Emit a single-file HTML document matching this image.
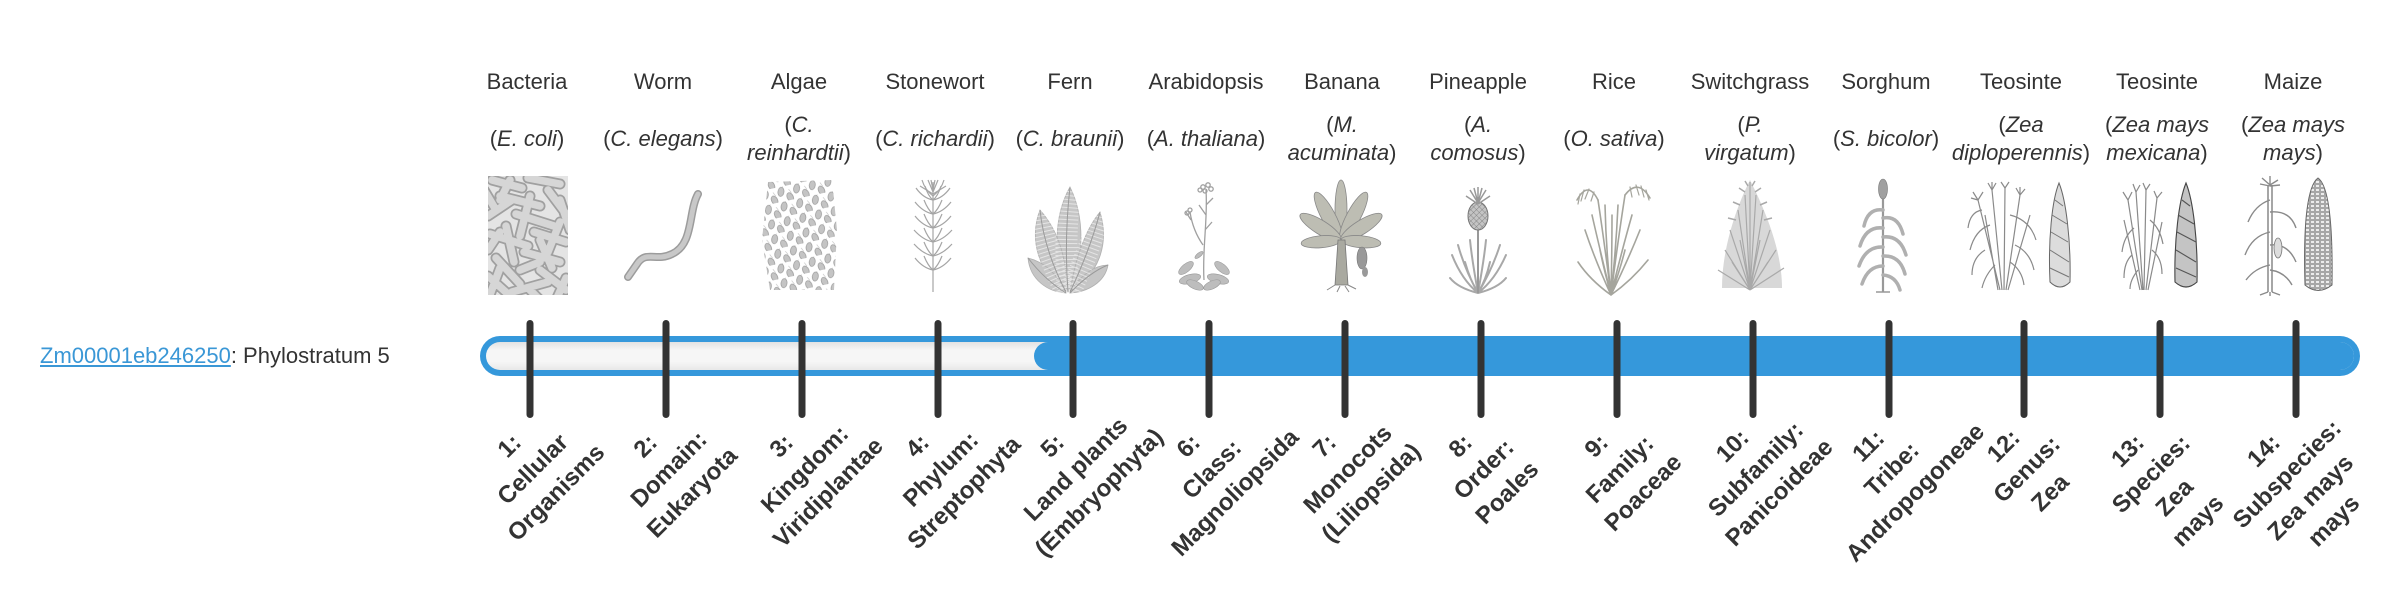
<!DOCTYPE html>
<html><head><meta charset="utf-8"><style>
html,body{margin:0;padding:0;background:#fff;}
body{width:2400px;height:580px;overflow:hidden;position:relative;font-family:"Liberation Sans",Arial,sans-serif;color:#333;}
.t{position:absolute;top:67px;width:160px;text-align:center;font-size:22px;line-height:30px;white-space:nowrap;color:#333;}
.s{position:absolute;top:104px;height:70px;width:160px;display:flex;align-items:center;justify-content:center;text-align:center;font-size:22px;line-height:28px;white-space:nowrap;color:#333;}
.l{position:absolute;top:420px;width:200px;text-align:center;font-size:24px;font-weight:bold;line-height:33px;white-space:nowrap;color:#333;transform:rotate(-45deg);transform-origin:50% 50%;}
.g{position:absolute;left:40px;top:341px;font-size:22px;line-height:30px;white-space:nowrap;color:#333;}
.g a{color:#3a97d6;text-decoration:underline;}
svg{position:absolute;left:0;top:0;}
</style></head><body>
<svg width="2400" height="580" viewBox="0 0 2400 580">
<defs>
<linearGradient id="gr" x1="0" y1="0" x2="0" y2="1">
<stop offset="0" stop-color="#e2e2e2"/><stop offset=".3" stop-color="#f6f6f6"/><stop offset=".7" stop-color="#f6f6f6"/><stop offset="1" stop-color="#e8e8e8"/>
</linearGradient>
<clipPath id="bc"><rect x="488" y="176" width="80" height="119"/></clipPath>
<pattern id="alg" width="16" height="15" patternUnits="userSpaceOnUse" patternTransform="rotate(-12)">
<ellipse cx="4" cy="5" rx="3" ry="4.6" fill="#c4c4c4" stroke="#999" stroke-width=".7" transform="rotate(20 4 5)"/>
<ellipse cx="12" cy="12" rx="3" ry="4.6" fill="#c4c4c4" stroke="#999" stroke-width=".7" transform="rotate(-15 12 12)"/>
<path d="M6 1 l3 -3 M14 8 l-2 -4" stroke="#aaa" stroke-width=".5" fill="none"/>
</pattern>
<pattern id="ph" width="4" height="4" patternUnits="userSpaceOnUse" patternTransform="rotate(45)">
<rect width="4" height="4" fill="#c4c4c4"/><path d="M0 0 H4 M0 0 V4" stroke="#777" stroke-width=".8"/>
</pattern>
<pattern id="kern" width="5" height="4" patternUnits="userSpaceOnUse">
<rect width="5" height="4" fill="#ececec"/><rect x=".5" y=".5" width="4" height="3" fill="none" stroke="#8a8a8a" stroke-width=".7"/>
</pattern>
</defs>

<!-- Bacteria -->
<rect x="488" y="176" width="80" height="119" fill="#e4e4e4"/>
<g clip-path="url(#bc)" stroke-linecap="round">
<g stroke="#a0a0a0" stroke-width="11">
<path d="M492 180L522 188M528 178L560 184M500 196L540 206M548 190L566 214M488 216L512 200M516 214L554 226M490 234L528 246M534 232L566 242M496 258L520 284M524 252L560 262M540 270L566 290M488 276L508 294M512 292L548 282M506 226L514 262M560 222L548 252M484 190L496 210M530 196L520 236M488 300L500 268M556 300L566 278M540 240L552 268M488 250L500 232M520 270L540 262M510 180L500 200M560 200L570 230M530 290L540 300"/>
</g>
<g stroke="#d6d6d6" stroke-width="7.5">
<path d="M492 180L522 188M528 178L560 184M500 196L540 206M548 190L566 214M488 216L512 200M516 214L554 226M490 234L528 246M534 232L566 242M496 258L520 284M524 252L560 262M540 270L566 290M488 276L508 294M512 292L548 282M506 226L514 262M560 222L548 252M484 190L496 210M530 196L520 236M488 300L500 268M556 300L566 278M540 240L552 268M488 250L500 232M520 270L540 262M510 180L500 200M560 200L570 230M530 290L540 300"/>
</g>
</g>

<!-- Worm -->
<path d="M698 194 C688 212 694 244 672 254 C656 262 646 250 637 264 L628 277" stroke="#9c9c9c" stroke-width="8" fill="none" stroke-linecap="round"/>
<path d="M698 194 C688 212 694 244 672 254 C656 262 646 250 637 264 L628 277" stroke="#c8c8c8" stroke-width="5" fill="none" stroke-linecap="round"/>

<!-- Algae -->
<path d="M768 182 L832 180 L837 230 L834 290 L770 290 L762 240 Z" fill="url(#alg)"/>

<!-- Stonewort -->
<g stroke="#a5a5a5" stroke-width="1.2" fill="none">
<path d="M933 292 L933 182"/>
<path d="M933 200q-10 -2 -17 -12M933 200q10 -2 17 -12M933 200q-5 -4 -8 -14M933 200q5 -4 8 -14"/>
<path d="M933 214q-10 -2 -18 -12M933 214q10 -2 18 -12M933 214q-5 -4 -9 -14M933 214q5 -4 9 -14"/>
<path d="M933 228q-10 -2 -18 -12M933 228q10 -2 18 -12M933 228q-5 -4 -9 -14M933 228q5 -4 9 -14"/>
<path d="M933 242q-10 -2 -19 -12M933 242q10 -2 19 -12M933 242q-5 -4 -9 -14M933 242q5 -4 9 -14"/>
<path d="M933 256q-10 -2 -19 -12M933 256q10 -2 19 -12M933 256q-5 -4 -9 -14M933 256q5 -4 9 -14"/>
<path d="M933 270q-10 -2 -18 -12M933 270q10 -2 18 -12M933 270q-5 -4 -9 -14M933 270q5 -4 9 -14"/>
<path d="M933 196q-8 -6 -11 -16M933 196q8 -6 11 -16M933 192l-5 -12M933 192l5 -12M933 190l-2 -10M933 190l2 -10M933 194l-13 -8M933 194l13 -8"/>
</g>

<!-- Fern -->
<g fill="#c6c6c6" stroke="#b0b0b0" stroke-width=".8">
<path d="M1068 292 C1052 260 1054 215 1070 187 C1084 215 1086 260 1068 292Z"/>
<path d="M1066 292 C1040 275 1028 240 1040 210 C1058 230 1068 260 1066 292Z"/>
<path d="M1070 292 C1075 260 1085 230 1100 212 C1110 245 1098 275 1070 292Z"/>
<path d="M1066 293 C1048 292 1030 280 1028 258 C1045 262 1058 275 1066 293Z"/>
<path d="M1070 293 C1080 275 1095 265 1108 265 C1105 282 1088 292 1070 293Z"/>
</g>
<g stroke="#fff" stroke-width="22" stroke-dasharray="1 3" opacity=".55" fill="none">
<path d="M1068 292 Q1064 240 1070 187"/>
<path d="M1066 292 Q1044 250 1040 210"/>
<path d="M1070 292 Q1090 250 1100 212"/>
</g>
<g stroke="#9a9a9a" stroke-width="1" fill="none">
<path d="M1068 292 Q1064 240 1070 187M1066 292 Q1044 250 1040 210M1070 292 Q1090 250 1100 212M1066 293 Q1045 280 1028 258M1070 293 Q1090 272 1108 265"/>
</g>

<!-- Arabidopsis -->
<g fill="#bdbdbd" stroke="#999" stroke-width=".6">
<ellipse cx="1190" cy="279" rx="11" ry="4.5" transform="rotate(-15 1190 279)"/>
<ellipse cx="1218" cy="279" rx="11" ry="4.5" transform="rotate(15 1218 279)"/>
<ellipse cx="1195" cy="285" rx="9" ry="4" transform="rotate(25 1195 285)"/>
<ellipse cx="1212" cy="285" rx="9" ry="4" transform="rotate(-25 1212 285)"/>
<ellipse cx="1186" cy="268" rx="9" ry="4" transform="rotate(-40 1186 268)"/>
<ellipse cx="1222" cy="268" rx="9" ry="4" transform="rotate(40 1222 268)"/>
<ellipse cx="1199" cy="255" rx="5" ry="2" transform="rotate(-40 1199 255)"/>
</g>
<g stroke="#a0a0a0" stroke-width="1.3" fill="none">
<path d="M1204 280 C1202 250 1208 220 1206 190M1203 245 C1196 235 1192 225 1190 212M1205 230l7 -8M1206 215l-7 -10M1206 205l7 -7M1191 220l-5 -8"/>
<circle cx="1203" cy="187" r="2.2"/><circle cx="1208" cy="185" r="2.2"/><circle cx="1211" cy="189" r="2.2"/><circle cx="1205" cy="191" r="2"/><circle cx="1200" cy="190" r="2"/><circle cx="1190" cy="210" r="2"/><circle cx="1187" cy="213" r="2"/>
</g>

<!-- Banana -->
<g fill="#bdbdb3" stroke="#888" stroke-width=".8">
<ellipse cx="1341" cy="210" rx="6" ry="30"/>
<ellipse cx="1328.3" cy="216.2" rx="7" ry="27" transform="rotate(-28 1328.3 216.2)"/>
<ellipse cx="1353.7" cy="216.2" rx="7" ry="27" transform="rotate(28 1353.7 216.2)"/>
<ellipse cx="1320.6" cy="227.3" rx="7" ry="24" transform="rotate(-58 1320.6 227.3)"/>
<ellipse cx="1361.4" cy="227.3" rx="7" ry="24" transform="rotate(58 1361.4 227.3)"/>
<ellipse cx="1321.1" cy="241.7" rx="6" ry="20" transform="rotate(-95 1321.1 241.7)"/>
<ellipse cx="1360.9" cy="241.7" rx="6" ry="20" transform="rotate(95 1360.9 241.7)"/>
</g>
<path d="M1335 285 L1338 240 L1345 240 L1348 285 Z" fill="#a9a9a0" stroke="#777" stroke-width=".8"/>
<path d="M1335 285l-8 5M1340 286l-3 6M1345 286l4 6M1348 285l8 4" stroke="#888" fill="none"/>
<ellipse cx="1362" cy="258" rx="5" ry="11" fill="#999" stroke="#777" stroke-width=".6"/>
<ellipse cx="1365" cy="272" rx="3" ry="5" fill="#999"/>

<!-- Pineapple -->
<g stroke="#a8a8a8" stroke-width="2" fill="none" stroke-linecap="round">
<path d="M1478 293 Q1462 280 1452 255M1478 293 Q1465 270 1458 245M1478 293 Q1470 280 1465 262M1478 293 Q1486 280 1490 262M1478 293 Q1492 270 1500 245M1478 293 Q1495 280 1506 255M1478 293 Q1472 260 1470 240M1478 293 Q1484 260 1486 240M1478 293 Q1458 288 1450 278M1478 293 Q1498 288 1506 278"/>
</g>
<path d="M1478 293 L1478 228" stroke="#999" stroke-width="2"/>
<ellipse cx="1478" cy="216" rx="10" ry="14" fill="url(#ph)" stroke="#777" stroke-width="1"/>
<path d="M1478 203l-8 -13M1478 203l-4 -15M1478 203l0 -16M1478 203l4 -15M1478 203l8 -13M1478 204l-12 -8M1478 204l12 -8" stroke="#999" stroke-width="1.5" fill="none"/>

<!-- Rice -->
<g stroke="#a5a59d" stroke-width="1.6" fill="none" stroke-linecap="round">
<path d="M1611 295Q1595 260 1585 230M1611 295Q1600 250 1592 215M1611 295Q1604 240 1598 200M1611 295Q1606 250 1605 205M1611 295Q1612 250 1612 215M1611 295Q1616 250 1618 205M1611 295Q1618 240 1625 195M1611 295Q1622 250 1632 215M1611 295Q1628 260 1640 230M1611 295Q1604 270 1600 250M1611 295Q1620 270 1625 250M1611 295Q1590 280 1578 262M1611 295Q1632 280 1648 260"/>
<path d="M1598 200 Q1588 180 1577 200M1625 195 Q1638 178 1650 198"/>
<path d="M1594 192l-3 9M1589 189l-4 10M1584 190l-3 11M1580 194l-2 10M1630 187l2 10M1636 185l3 10M1641 186l3 11M1646 190l3 10" stroke-width="1.2"/>
</g>

<!-- Switchgrass -->
<path d="M1722 288 C1722 250 1735 210 1750 180 C1765 210 1782 250 1782 288 Z" fill="#d8d8d8"/>
<g stroke="#a9a9a9" stroke-width="1.2" fill="none">
<path d="M1750 290L1725 250M1750 290L1730 230M1750 290L1738 210M1750 290L1745 195M1750 290L1750 182M1750 290L1756 195M1750 290L1763 210M1750 290L1770 230M1750 290L1776 250M1750 290L1718 270M1750 290L1784 268M1750 290L1740 240M1750 290L1760 240M1750 290L1732 262M1750 290L1768 262"/>
<path d="M1745 192l-6 -4M1755 192l6 -4M1740 205l-7 -3M1760 205l7 -3M1736 220l-8 -2M1764 220l8 -2M1748 186l-3 -5M1752 186l3 -5" stroke-width="1.5"/>
</g>

<!-- Sorghum -->
<path d="M1883 292 L1883 196" stroke="#999" stroke-width="2.2"/>
<ellipse cx="1883" cy="189" rx="4.5" ry="10" fill="#a0a0a0" stroke="#777" stroke-width=".6"/>
<g stroke="#b0b0b0" stroke-width="3.5" fill="none" stroke-linecap="round">
<path d="M1883 210Q1868 208 1864 226M1883 228Q1866 226 1860 246M1883 247Q1866 246 1859 266M1883 266Q1868 266 1862 284M1883 218Q1898 215 1903 234M1883 237Q1900 235 1906 255M1883 256Q1900 255 1905 274M1883 275Q1896 276 1900 290"/>
</g>
<path d="M1876 292 L1890 292" stroke="#999" stroke-width="1.5"/>

<!-- Teosinte 1 -->
<g stroke="#8a8a8a" stroke-width="1.2" fill="none">
<path d="M2000 290L1978 200M2002 290L1992 190M2004 290L2005 188M2006 290L2020 195M1998 290L1985 215M2008 290L2030 215"/>
<path d="M1990 225Q1975 230 1970 250M2010 215Q2030 220 2036 240M1985 250Q1972 258 1972 275M2015 245Q2030 252 2034 270M1995 265Q1985 275 1982 288M2010 262Q2022 270 2024 285M1982 210Q1970 212 1968 228"/>
<path d="M1978 200l-5 -8M1978 200l5 -8M1978 200l-7 -2M1992 190l-4 -7M1992 190l4 -7M1992 190l0 -8M2005 188l-4 -6M2005 188l4 -6M2020 195l-4 -7M2020 195l5 -6M2020 195l0 -8"/>
</g>
<path d="M2059 183 C2066 200 2071 240 2070 282 Q2060 292 2050 282 C2048 240 2052 200 2059 183 Z" fill="#dcdcdc" stroke="#666" stroke-width="1"/>
<path d="M2055 200L2063 206M2052 215L2067 224M2051 232L2068 242M2050 250L2069 262M2050 268L2069 277" stroke="#777" stroke-width="1" fill="none"/>

<!-- Teosinte 2 -->
<g stroke="#8a8a8a" stroke-width="1.2" fill="none">
<path d="M2142 290L2128 200M2143 290L2136 192M2144 290L2146 190M2146 290L2157 198M2140 290L2124 220M2148 290L2162 222"/>
<path d="M2134 228Q2124 236 2122 252M2150 220Q2160 228 2163 244M2132 255Q2124 262 2124 278M2152 250Q2162 258 2162 274M2138 270Q2130 280 2130 289"/>
<path d="M2128 200l-5 -8M2128 200l4 -8M2136 192l-3 -8M2136 192l4 -7M2146 190l-3 -7M2146 190l4 -6M2157 198l-3 -7M2157 198l5 -6"/>
</g>
<path d="M2186 183 C2193 200 2198 240 2197 282 Q2186 292 2175 282 C2174 240 2179 200 2186 183 Z" fill="#c4c4c4" stroke="#444" stroke-width="1.1"/>
<path d="M2182 200L2190 206M2178 215L2194 224M2177 232L2196 242M2176 250L2196 262M2176 268L2196 277" stroke="#555" stroke-width="1.1" fill="none"/>

<!-- Maize -->
<path d="M2268 292 L2268 185 M2272 292 L2272 185" stroke="#777" stroke-width="1.3"/>
<g stroke="#8a8a8a" stroke-width="1.4" fill="none">
<path d="M2270 200Q2255 205 2248 222M2270 212Q2290 210 2296 228M2270 232Q2252 236 2245 255M2270 245Q2288 243 2296 262M2270 265Q2255 268 2246 280M2270 270Q2285 272 2292 285"/>
<path d="M2270 185l-8 -7M2270 185l0 -9M2270 185l8 -5M2270 186l-10 -2M2270 186l10 -1"/>
<path d="M2268 292l-8 3M2272 292l8 3M2270 292l0 4"/>
</g>
<ellipse cx="2278" cy="248" rx="4" ry="10" fill="#ddd" stroke="#777" stroke-width=".8"/>
<path d="M2318 178 C2328 185 2333 220 2332 285 Q2318 296 2305 285 C2303 220 2308 185 2318 178 Z" fill="url(#kern)" stroke="#666" stroke-width="1"/>

<!-- Bar -->
<rect x="480" y="336" width="1880" height="40" rx="20" fill="#3598db"/>
<rect x="486" y="342" width="1868" height="28" rx="14" fill="url(#gr)"/>
<rect x="1034" y="342" width="1320" height="28" rx="14" fill="#3598db"/>

<!-- Ticks -->
<g stroke="#333" stroke-width="7" stroke-linecap="round">
<line x1="530" y1="323.5" x2="530" y2="414.5"/>
<line x1="666" y1="323.5" x2="666" y2="414.5"/>
<line x1="802" y1="323.5" x2="802" y2="414.5"/>
<line x1="938" y1="323.5" x2="938" y2="414.5"/>
<line x1="1073" y1="323.5" x2="1073" y2="414.5"/>
<line x1="1209" y1="323.5" x2="1209" y2="414.5"/>
<line x1="1345" y1="323.5" x2="1345" y2="414.5"/>
<line x1="1481" y1="323.5" x2="1481" y2="414.5"/>
<line x1="1617" y1="323.5" x2="1617" y2="414.5"/>
<line x1="1753" y1="323.5" x2="1753" y2="414.5"/>
<line x1="1889" y1="323.5" x2="1889" y2="414.5"/>
<line x1="2024" y1="323.5" x2="2024" y2="414.5"/>
<line x1="2160" y1="323.5" x2="2160" y2="414.5"/>
<line x1="2296" y1="323.5" x2="2296" y2="414.5"/>
</g>
</svg>

<div class="g"><a>Zm00001eb246250</a>: Phylostratum 5</div>

<div class="t" style="left:447px">Bacteria</div>
<div class="t" style="left:583px">Worm</div>
<div class="t" style="left:719px">Algae</div>
<div class="t" style="left:855px">Stonewort</div>
<div class="t" style="left:990px">Fern</div>
<div class="t" style="left:1126px">Arabidopsis</div>
<div class="t" style="left:1262px">Banana</div>
<div class="t" style="left:1398px">Pineapple</div>
<div class="t" style="left:1534px">Rice</div>
<div class="t" style="left:1670px">Switchgrass</div>
<div class="t" style="left:1806px">Sorghum</div>
<div class="t" style="left:1941px">Teosinte</div>
<div class="t" style="left:2077px">Teosinte</div>
<div class="t" style="left:2213px">Maize</div>

<div class="s" style="left:447px"><div>(<i>E. coli</i>)</div></div>
<div class="s" style="left:583px"><div>(<i>C. elegans</i>)</div></div>
<div class="s" style="left:719px"><div>(<i>C.</i><br><i>reinhardtii</i>)</div></div>
<div class="s" style="left:855px"><div>(<i>C. richardii</i>)</div></div>
<div class="s" style="left:990px"><div>(<i>C. braunii</i>)</div></div>
<div class="s" style="left:1126px"><div>(<i>A. thaliana</i>)</div></div>
<div class="s" style="left:1262px"><div>(<i>M.</i><br><i>acuminata</i>)</div></div>
<div class="s" style="left:1398px"><div>(<i>A.</i><br><i>comosus</i>)</div></div>
<div class="s" style="left:1534px"><div>(<i>O. sativa</i>)</div></div>
<div class="s" style="left:1670px"><div>(<i>P.</i><br><i>virgatum</i>)</div></div>
<div class="s" style="left:1806px"><div>(<i>S. bicolor</i>)</div></div>
<div class="s" style="left:1941px"><div>(<i>Zea</i><br><i>diploperennis</i>)</div></div>
<div class="s" style="left:2077px"><div>(<i>Zea mays</i><br><i>mexicana</i>)</div></div>
<div class="s" style="left:2213px"><div>(<i>Zea mays</i><br><i>mays</i>)</div></div>

<div class="l" style="left:433px">1:<br>Cellular<br>Organisms</div>
<div class="l" style="left:569px">2:<br>Domain:<br>Eukaryota</div>
<div class="l" style="left:705px">3:<br>Kingdom:<br>Viridiplantae</div>
<div class="l" style="left:841px">4:<br>Phylum:<br>Streptophyta</div>
<div class="l" style="left:976px">5:<br>Land plants<br>(Embryophyta)</div>
<div class="l" style="left:1112px">6:<br>Class:<br>Magnoliopsida</div>
<div class="l" style="left:1248px">7:<br>Monocots<br>(Liliopsida)</div>
<div class="l" style="left:1384px">8:<br>Order:<br>Poales</div>
<div class="l" style="left:1520px">9:<br>Family:<br>Poaceae</div>
<div class="l" style="left:1656px">10:<br>Subfamily:<br>Panicoideae</div>
<div class="l" style="left:1792px">11:<br>Tribe:<br>Andropogoneae</div>
<div class="l" style="left:1927px">12:<br>Genus:<br>Zea</div>
<div class="l" style="left:2063px">13:<br>Species:<br>Zea<br>mays</div>
<div class="l" style="left:2199px">14:<br>Subspecies:<br>Zea mays<br>mays</div>
</body></html>
